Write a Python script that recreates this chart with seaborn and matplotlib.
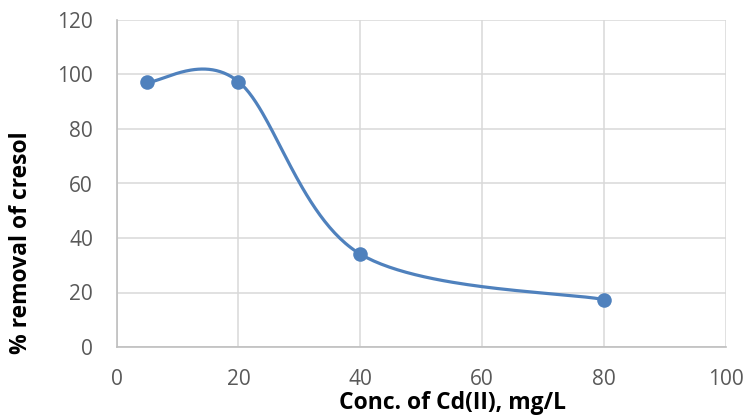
import numpy as np
import pandas as pd
import matplotlib
matplotlib.use("Agg")
import matplotlib.pyplot as plt
import seaborn as sns

# Cd(II) concentration (mg/L) and cresol removal (%)
conc = [5, 20, 40, 80]
removal = [97.1, 97.4, 34.1, 17.4]

x_ticks = [0, 20, 40, 60, 80, 100]
y_ticks = [0, 20, 40, 60, 80, 100, 120]

LINE_BLUE = "#4F81BD"
GRID = "#D9D9D9"
TICK_GRAY = "#595959"


def smooth_curve(xs, ys, n=60):
    """Cubic Bezier smoothing through every point (spreadsheet-style)."""
    pts = np.column_stack([xs, ys]).astype(float)
    ext = np.vstack([pts[0], pts, pts[-1]])
    out = []
    for i in range(len(pts) - 1):
        p0, p1 = ext[i + 1], ext[i + 2]
        c1 = p0 + (ext[i + 2] - ext[i]) / 6.0
        c2 = p1 - (ext[i + 3] - ext[i + 1]) / 6.0
        t = np.linspace(0, 1, n)[:, None]
        seg = ((1 - t) ** 3) * p0 + 3 * ((1 - t) ** 2) * t * c1 \
            + 3 * (1 - t) * t ** 2 * c2 + t ** 3 * p1
        out.append(seg if i == 0 else seg[1:])
    arr = np.vstack(out)
    return pd.DataFrame({"x": arr[:, 0], "y": arr[:, 1]})


sns.set_theme(style="white")
plt.rcParams["font.family"] = ["Open Sans", "DejaVu Sans"]

fig = plt.figure(figsize=(7.46, 4.19), dpi=100)
ax = fig.add_axes([116.5 / 746, 1 - 347 / 419, (726 - 116.5) / 746, (347 - 20) / 419])

points = pd.DataFrame({"conc": conc, "removal": removal})
curve = smooth_curve(conc, removal)

sns.lineplot(data=curve, x="x", y="y", ax=ax, color=LINE_BLUE, linewidth=2.3,
             sort=False, estimator=None, zorder=3)
sns.scatterplot(data=points, x="conc", y="removal", ax=ax, color=LINE_BLUE,
                s=110, edgecolor=LINE_BLUE, linewidth=0, zorder=4)

ax.set_xlim(0, 100)
ax.set_ylim(0, 120)
ax.set_xticks(x_ticks)
ax.set_yticks(y_ticks)
ax.grid(True, color=GRID, linewidth=1.1)
ax.set_axisbelow(True)
for side in ["top", "right"]:
    ax.spines[side].set_visible(False)
for side in ["left", "bottom"]:
    ax.spines[side].set_color("#BFBFBF")
    ax.spines[side].set_linewidth(1.2)

ax.tick_params(axis="both", length=0, labelsize=15, colors=TICK_GRAY)
ax.tick_params(axis="x", pad=15.5)
ax.tick_params(axis="y", pad=17)

ax.set_xlabel("Conc. of Cd(II), mg/L", fontsize=16.5, fontweight="bold",
              color="black")
ax.set_ylabel("% removal of cresol", fontsize=16.5, fontweight="bold",
              color="black")
ax.xaxis.set_label_coords(0.552, -0.134)
ax.yaxis.set_label_coords(-0.137, 0.318)

fig.savefig("out.png", dpi=100)
